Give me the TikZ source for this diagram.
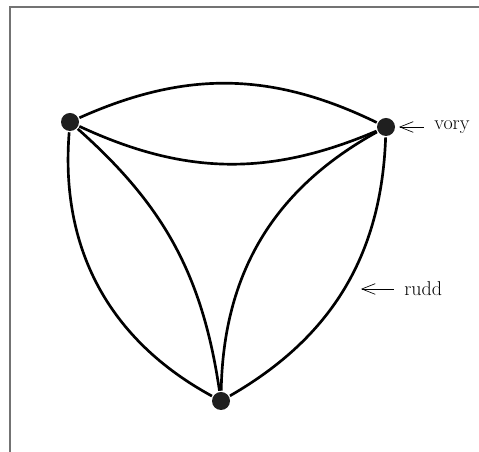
\documentclass[tikz,border=0pt]{standalone}
\usetikzlibrary{arrows.meta}
\begin{document}
\begin{tikzpicture}[x=0.75pt, y=0.75pt, line width=2pt,
  dot/.style={circle, fill=black!88, inner sep=0pt, minimum size=13.5pt},
  pointer/.style={-{Straight Barb[length=10pt, width=8pt]}, line width=0.5pt},
  lab/.style={anchor=west, inner sep=0pt, font=\fontsize{15}{18}\selectfont}]
  \useasboundingbox (0,0) rectangle (479,452);
  \draw[line width=1pt, black!55] (10,0) -- (10,445) -- (479,445);
  \node[dot] (vl) at (70,330) {};
  \node[dot] (vr) at (386,325) {};
  \node[dot] (vb) at (221,51) {};
  \draw (vl) to[bend left=25] (vr);
  \draw (vl) to[bend right=24] (vr);
  \draw (vl) to[bend right=33] (vb);
  \draw (vl) to[bend left=20] (vb);
  \draw (vr) to[bend left=29] (vb);
  \draw (vr) to[bend right=30] (vb);
  \node[lab] (vory) at (433,325) {vory};
  \coordinate (vorytip) at (399,325);
  \draw[pointer] ([xshift=-7pt]vory.west) -- (vorytip);
  \node[lab] (rudd) at (403,163) {rudd};
  \coordinate (ruddtip) at (361,163);
  \draw[pointer] ([xshift=-7pt]rudd.west) -- (ruddtip);
\end{tikzpicture}
\end{document}
